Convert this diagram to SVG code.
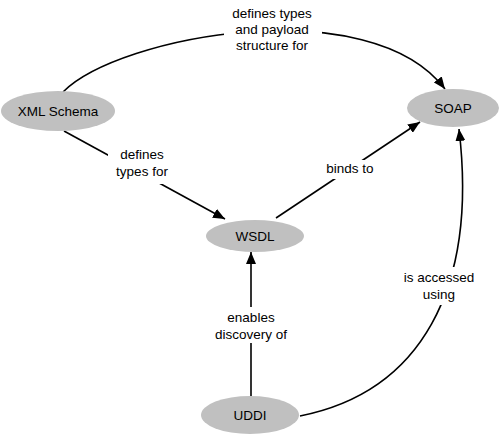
<svg xmlns="http://www.w3.org/2000/svg" width="500" height="437" viewBox="0 0 500 437">
<defs>
<marker id="arr" viewBox="0 0 12 10" refX="12" refY="5" markerWidth="12" markerHeight="10" markerUnits="userSpaceOnUse" orient="auto">
<path d="M0,0 L12,5 L0,10 z" fill="#000"/>
</marker>
<style>
.n{fill:#c0c0c0;stroke:none}
.t{font-family:"Liberation Sans",Arial,sans-serif;font-size:13.5px;fill:#000;text-anchor:middle}
.e{fill:none;stroke:#000;stroke-width:1.6}
.lb{fill:#fff}
</style>
</defs>
<rect width="500" height="437" fill="#fff"/>
<g id="connectors">
<path class="e" d="M63,92 C120,35 370,-10 445,89" marker-end="url(#arr)"/>
<path class="e" d="M64,131 L225,219" marker-end="url(#arr)"/>
<path class="e" d="M276,218 L420,122" marker-end="url(#arr)"/>
<path class="e" d="M251,396 L251,252" marker-end="url(#arr)"/>
<path class="e" d="M300,416 C420,392 478,290 459,129" marker-end="url(#arr)"/>
<rect class="lb" x="224" y="4" width="98" height="50"/>
<rect class="lb" x="108" y="146" width="70" height="38"/>
<rect class="lb" x="322" y="160" width="56" height="19"/>
<rect class="lb" x="208" y="307" width="86" height="36"/>
<rect class="lb" x="396" y="267" width="86" height="38"/>
<text class="t" x="272" y="18">defines types</text>
<text class="t" x="272" y="34">and payload</text>
<text class="t" x="272" y="50">structure for</text>
<text class="t" x="142" y="159">defines</text>
<text class="t" x="142" y="176">types for</text>
<text class="t" x="350" y="173">binds to</text>
<text class="t" x="251" y="322">enables</text>
<text class="t" x="251" y="339">discovery of</text>
<text class="t" x="439" y="282">is accessed</text>
<text class="t" x="439" y="299">using</text>
</g>
<g id="xmlschema"><ellipse class="n" cx="58" cy="111" rx="57" ry="20"/><text class="t" x="58" y="116">XML Schema</text></g>
<g id="soap"><ellipse class="n" cx="453" cy="108" rx="46" ry="19"/><text class="t" x="453" y="113">SOAP</text></g>
<g id="wsdl"><ellipse class="n" cx="255" cy="236" rx="49" ry="16"/><text class="t" x="255" y="241">WSDL</text></g>
<g id="uddi"><ellipse class="n" cx="250" cy="415" rx="49" ry="19"/><text class="t" x="250" y="420">UDDI</text></g>
</svg>
